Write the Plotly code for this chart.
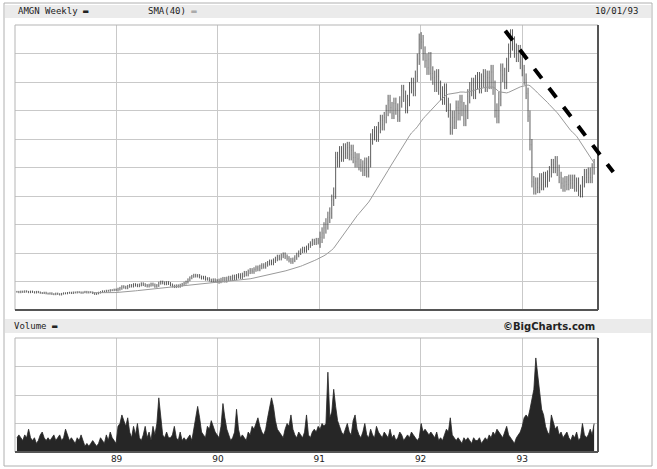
import numpy as np
import pandas as pd
import plotly.graph_objects as go

# weekly closes (arbitrary price units, grid every 10)
close_88 = [6.4,6.2,6.5,6.3,6.6,6.4,6.2,6.5,6.3,6.1,6.4,6.2,6.0,5.9,6.1,5.8,5.7,5.9,5.6,5.5,5.8,5.6,5.4,5.7,5.9,5.8,
            6.0,6.1,5.9,6.2,6.1,6.3,6.2,6.0,6.2,6.4,6.1,6.3,6.2,5.9,5.6,5.8,6.1,6.3,6.6,6.5,6.8,6.7,7.0,6.9,7.2,7.0]
close_89 = [7.3,7.6,8.2,8.0,7.8,8.3,8.6,8.4,8.9,8.7,8.5,8.8,9.2,8.9,8.6,8.4,8.7,9.1,8.8,8.3,8.6,9.4,9.8,9.5,9.2,9.6,
            9.3,8.8,8.4,8.2,8.5,8.3,8.7,9.0,9.4,9.8,10.6,11.3,11.8,12.2,11.9,12.1,11.6,11.2,11.5,10.8,11.0,10.5,10.2,10.6,10.3,10.0]
close_90 = [10.2,10.5,10.8,10.4,10.9,11.2,11.0,11.6,11.3,11.8,12.1,11.7,12.3,12.9,12.6,13.4,13.9,13.5,14.2,14.8,14.4,15.1,
            15.6,15.3,16.0,16.4,16.9,16.5,17.3,17.9,18.6,18.2,19.0,19.4,18.7,18.1,17.5,17.0,17.6,18.4,19.3,20.1,20.8,21.4,
            20.9,21.8,22.6,23.3,24.2,23.6,24.5,23.8]
close_91 = [25.5,27.0,28.8,30.2,32.5,34.0,38.5,41.0,53.5,52.0,55.5,54.0,56.5,55.0,57.0,54.5,56.0,53.5,52.0,53.0,51.0,50.5,
            49.0,51.5,48.5,52.0,60.0,61.5,62.5,61.0,64.0,66.5,65.0,67.5,70.0,73.5,71.0,69.0,72.5,70.5,68.0,73.0,77.0,75.0,
            71.0,73.5,78.0,79.5,77.0,82.0,88.0,95.0]
close_92 = [94.0,90.0,87.5,85.0,88.0,83.0,81.5,79.0,82.0,78.0,76.0,74.5,77.0,72.0,70.0,64.0,67.5,66.0,71.0,69.0,73.0,70.5,
            67.0,69.5,75.0,77.5,79.0,76.5,80.0,81.0,78.5,80.5,82.0,79.0,81.5,80.0,83.5,78.0,70.0,68.0,74.0,84.0,82.5,80.0,
            86.0,91.0,96.0,93.5,91.0,89.5,90.5,87.0]
close_93 = [84.0,81.0,76.0,68.0,58.0,45.0,42.5,44.5,43.0,46.0,44.0,46.5,45.0,47.0,48.5,51.0,50.0,52.0,49.0,46.5,44.5,43.5,
            45.0,44.0,45.5,44.5,45.5,43.5,44.5,42.0,41.5,45.0,47.5,46.5,48.0,46.5,49.5,51.0]

# typical half bar range per year
wick = [0.3, 0.5, 0.8, 2.0, 2.5, 2.0]

vol_88 = [0.5,0.6,0.5,0.4,0.6,0.5,0.8,0.5,0.4,0.5,0.3,0.4,0.6,0.7,0.5,0.4,0.5,0.4,0.5,0.6,0.4,0.5,0.6,0.4,0.5,0.8,
          0.6,0.4,0.5,0.4,0.3,0.5,0.4,0.6,0.4,0.2,0.3,0.2,0.3,0.4,0.3,0.2,0.3,0.5,0.4,0.3,0.6,0.4,0.7,0.5,0.4,0.3]
vol_89 = [0.9,1.0,1.3,1.1,0.9,1.2,0.7,0.5,0.9,0.6,1.0,0.5,0.4,0.6,0.9,0.5,0.7,0.4,0.9,0.6,1.0,1.9,1.1,0.6,0.5,0.7,
          0.5,0.5,0.6,0.9,0.5,0.4,0.7,0.4,0.5,0.4,0.5,0.6,0.4,0.8,1.3,1.6,1.2,0.7,0.6,0.5,0.9,0.8,1.1,0.9,0.7,0.6]
vol_90 = [0.5,0.9,1.7,1.2,0.8,0.6,0.4,0.5,0.7,1.5,0.8,0.5,0.6,0.5,0.4,0.7,0.6,0.9,0.8,1.0,1.2,0.9,0.7,0.6,0.8,1.2,
          1.5,1.9,1.6,1.1,0.8,0.7,0.6,0.5,0.8,1.0,0.9,1.3,0.8,0.6,0.5,0.7,0.6,0.5,0.7,1.3,0.6,0.5,0.7,0.8,0.7,0.9]
vol_91 = [0.8,1.0,0.9,1.0,2.8,1.2,1.4,2.2,1.6,1.1,0.9,0.7,0.6,0.8,1.0,0.7,0.6,1.1,1.3,0.8,0.6,0.5,0.7,1.0,0.6,0.5,
          0.8,0.6,0.5,0.9,0.7,0.6,0.5,0.7,0.6,0.5,0.8,0.5,0.6,0.4,0.5,0.7,0.6,0.4,0.5,0.6,0.5,0.7,0.6,0.5,0.4,0.5]
vol_92 = [1.0,0.7,0.8,0.7,0.6,0.7,0.6,0.5,0.7,0.4,0.5,0.4,0.6,0.8,0.7,1.2,0.6,0.5,0.4,0.5,0.4,0.3,0.5,0.4,0.5,0.4,
          0.3,0.5,0.4,0.4,0.5,0.3,0.4,0.5,0.4,0.6,0.5,0.7,0.6,0.8,0.7,0.6,0.5,0.7,0.9,0.6,0.5,0.4,0.3,0.5,0.6,0.7]
vol_93 = [0.9,1.2,1.3,1.2,1.5,1.8,2.2,3.3,2.7,1.9,1.5,1.3,0.9,0.7,0.6,1.3,1.0,0.8,0.9,0.6,0.7,0.5,0.6,0.7,0.5,0.4,
          0.6,0.5,0.7,0.4,0.5,1.0,0.6,0.5,0.6,0.8,0.6,1.0]

year_ticks = ["1989-01-01", "1990-01-01", "1991-01-01", "1992-01-01", "1993-01-01"]
year_labels = ["89", "90", "91", "92", "93"]

# hand drawn trend line: two points (date, price)
trend_x = ["1992-11-01", "1993-11-25"]
trend_y = [98.0, 48.4]

closes_by_year = [close_88, close_89, close_90, close_91, close_92, close_93]
close = np.array(sum(closes_by_year, []))
w = np.concatenate([[wick[i]] * len(c) for i, c in enumerate(closes_by_year)])
vol = np.array(vol_88 + vol_89 + vol_90 + vol_91 + vol_92 + vol_93)
n = min(len(close), len(vol))
close, w, vol = close[:n], w[:n], vol[:n]
dates = pd.date_range("1988-01-08", periods=n, freq="7D")
opn = np.concatenate([[close[0]], close[:-1]])
high = np.maximum(opn, close) + w
low = np.minimum(opn, close) - w
sma = pd.Series(close).rolling(40).mean()

W, H = 657, 469


def px(x):
    return x / W


def py(y):
    return 1 - y / H


xr = [pd.Timestamp("1988-01-01"), pd.Timestamp("1993-10-01")]
xdom = [px(15), px(598)]
ydom_main = [py(310), py(25)]
ydom_vol = [py(452), py(338)]

fig = go.Figure()
fig.add_trace(go.Ohlc(x=dates, open=opn, high=high, low=low, close=close,
                      increasing_line_color="#333", decreasing_line_color="#333",
                      line_width=0.8, tickwidth=0.05, xaxis="x", yaxis="y", showlegend=False))
fig.add_trace(go.Scatter(x=dates, y=sma, mode="lines", line=dict(color="#9a9a9a", width=1),
                         xaxis="x", yaxis="y", showlegend=False))
fig.add_trace(go.Scatter(x=dates, y=vol, mode="lines", fill="tozeroy", fillcolor="#262626",
                         line=dict(color="#262626", width=0.8), xaxis="x2", yaxis="y2", showlegend=False))

grid = "#c9c9c9"
fig.update_layout(
    width=W, height=H, margin=dict(l=0, r=0, t=0, b=0),
    paper_bgcolor="white", plot_bgcolor="white",
    font=dict(family="DejaVu Sans Mono", size=9, color="#222"),
    xaxis=dict(domain=xdom, range=xr, type="date", rangeslider=dict(visible=False),
               tickvals=year_ticks, showticklabels=False, showgrid=True, gridcolor=grid,
               zeroline=False, anchor="y"),
    yaxis=dict(domain=ydom_main, range=[0, 100], dtick=10, showticklabels=False,
               showgrid=True, gridcolor=grid, zeroline=False, anchor="x"),
    xaxis2=dict(domain=xdom, range=xr, type="date", tickvals=year_ticks, ticktext=year_labels,
                showgrid=True, gridcolor=grid, zeroline=False, anchor="y2", ticks="",
                automargin=False, tickfont=dict(family="DejaVu Sans", size=9)),
    yaxis2=dict(domain=ydom_vol, range=[0, 4], dtick=1, showticklabels=False,
                showgrid=True, gridcolor=grid, zeroline=False, anchor="x2"),
)

shapes = [
    dict(type="rect", xref="paper", yref="paper", x0=px(4), x1=px(652), y0=py(466), y1=py(3),
         line=dict(color="#b0b0b0", width=1), layer="below"),
    dict(type="rect", xref="paper", yref="paper", x0=px(5), x1=px(651), y0=py(18), y1=py(5),
         fillcolor="#ebebeb", line_width=0, layer="below"),
    dict(type="rect", xref="paper", yref="paper", x0=px(5), x1=px(651), y0=py(333), y1=py(319),
         fillcolor="#ebebeb", line_width=0, layer="below"),
]
for yd in (ydom_main, ydom_vol):
    shapes += [
        dict(type="rect", xref="paper", yref="paper", x0=xdom[0], x1=xdom[1], y0=yd[0], y1=yd[1],
             line=dict(color="#b5b5b5", width=1)),
        dict(type="line", xref="paper", yref="paper", x0=xdom[0], x1=xdom[1], y0=yd[0], y1=yd[0],
             line=dict(color="#555", width=2)),
        dict(type="line", xref="paper", yref="paper", x0=xdom[1], x1=xdom[1], y0=yd[0], y1=yd[1],
             line=dict(color="#555", width=2)),
    ]


def to_paper(t, v):
    fx = xdom[0] + (pd.Timestamp(t) - xr[0]) / (xr[1] - xr[0]) * (xdom[1] - xdom[0])
    fy = ydom_main[0] + v / 100 * (ydom_main[1] - ydom_main[0])
    return fx, fy


(tx0, ty0), (tx1, ty1) = to_paper(trend_x[0], trend_y[0]), to_paper(trend_x[1], trend_y[1])
shapes.append(dict(type="line", xref="paper", yref="paper", x0=tx0, y0=ty0, x1=tx1, y1=ty1,
                   line=dict(color="black", width=4, dash="dash")))
fig.update_layout(shapes=shapes)

ann = [
    (16, 11, "AMGN Weekly <b>▬</b>", "left"),
    (146, 11, "SMA(40) <span style='color:#aaa'>▬</span>", "left"),
    (640, 11, "10/01/93", "right"),
    (12, 326, "Volume <b>▬</b>", "left"),
]
for x, y, t, a in ann:
    fig.add_annotation(x=px(x), y=py(y), xref="paper", yref="paper", text=t,
                       showarrow=False, xanchor=a, yanchor="middle", font=dict(size=9))
fig.add_annotation(x=px(597), y=py(326), xref="paper", yref="paper", text="<b>©BigCharts.com</b>",
                   showarrow=False, xanchor="right", yanchor="middle",
                   font=dict(family="DejaVu Sans", size=10))

# drop the page's default body margin so the figure fills the window
fig.write_html("out.html", config={"displayModeBar": False},
               post_script="document.body.style.margin='0';document.body.style.overflow='hidden';")
